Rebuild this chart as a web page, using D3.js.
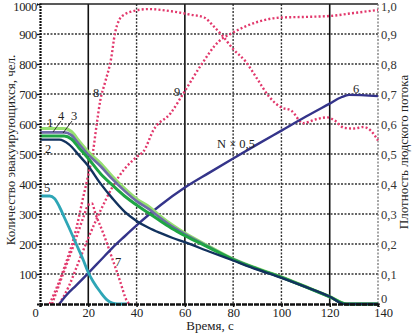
<!DOCTYPE html>
<html><head><meta charset="utf-8">
<script src="https://cdn.jsdelivr.net/npm/d3@7/dist/d3.min.js"></script>
<style>
html,body{margin:0;padding:0;background:#fff;}
svg{display:block;}
svg text{font-family:'Liberation Serif', serif !important;}
</style></head>
<body>
<svg id="c" width="413" height="334"></svg>
<script>
// ---- data ----
const xTicks = [0,20,40,60,80,100,120,140];
const yTicks = [100,200,300,400,500,600,700,800,900,1000];
const yRTicks = [0,0.1,0.2,0.3,0.4,0.5,0.6,0.7,0.8,0.9,1.0];
const yRLabels = ["0","0,1","0,2","0,3","0,4","0,5","0,6","0,7","0,8","0,9","1,0"];

const tA = [0,10,13,16,20,25,30,35,40,45,50,55,60,70,80,90,100,110,120,127,140];
const s1 = [585,585,575,545,507,470,425,385,350,325,292,262,236,192,150,118,90,58,25,0,0];
const s4 = [572,572,563,535,498,460,416,377,343,317,286,257,233,190,149,117,89,57,24,0,0];
const s3 = [560,560,550,522,485,435,396,360,330,303,276,250,228,188,148,117,89,57,24,0,0];
const tB = [0,8,12,16,20,25,30,35,40,45,50,55,60,70,80,90,100,110,120,126,140];
const s2 = [548,548,532,497,460,402,352,308,277,254,236,220,206,175,145,115,87,57,25,0,0];
const t5 = [0,4,6,8,10,12,15,18,20,22,25,28,30,32,36];
const s5 = [360,360,352,325,290,255,200,145,105,75,40,12,3,0,0];
const t6 = [8,11,15,20,25,30,35,40,50,60,70,80,90,100,110,120,125,128,140];
const s6 = [0,30,62,103,145,187,225,262,330,388,437,485,532,578,624,668,690,697,693];
// density (right axis)
const t7 = [5,10,15,18,20,21.5,23,26,30,33,36,37];
const d7 = [0,0.11,0.22,0.29,0.33,0.335,0.30,0.24,0.15,0.08,0.01,0];
const t8 = [4,10,15,18,20,22,23.5,25,27,29.5,31,33,35,38,45,55,62,68,72,76,80,85,90,95,100,104,109,114,119,122,126,130,134,137,140];
const d8 = [0,0.12,0.25,0.36,0.43,0.51,0.60,0.68,0.74,0.82,0.90,0.95,0.965,0.975,0.983,0.975,0.965,0.955,0.925,0.89,0.85,0.81,0.75,0.69,0.655,0.645,0.603,0.615,0.622,0.612,0.587,0.585,0.59,0.578,0.545];
const t9 = [8,12,16,20,25,30,35,40,43,47,54,60,67,74,80,90,100,110,120,130,140];
const d9 = [0,0.06,0.14,0.22,0.31,0.39,0.45,0.49,0.51,0.58,0.635,0.71,0.80,0.875,0.905,0.94,0.955,0.957,0.96,0.97,0.98];

const FONT = "'Liberation Serif', serif";
const svg = d3.select("#c");
const x = d3.scaleLinear().domain([0,140]).range([40,378]);
const y = d3.scaleLinear().domain([0,1000]).range([304,4]);
const yR = d3.scaleLinear().domain([0,1]).range([304,4]);

// grid
const grid = svg.append("g");
[20,40,60,80,100,120].forEach(v=>{
  const solid = (v===20||v===60||v===120);
  grid.append("line").attr("x1",x(v)).attr("x2",x(v)).attr("y1",y(1000)).attr("y2",y(0))
    .attr("stroke",solid?"#111":"#333").attr("stroke-width",solid?1.6:1.4)
    .attr("stroke-dasharray",solid?null:"2,1.5");
});
[100,200,300,400,500,600,700,800,900].forEach(v=>{
  grid.append("line").attr("x1",x(0)).attr("x2",x(140)).attr("y1",y(v)).attr("y2",y(v))
    .attr("stroke","#333").attr("stroke-width",1.4).attr("stroke-dasharray","2,1.5");
});
// frame
svg.append("line").attr("x1",x(0)).attr("x2",x(140)).attr("y1",y(1000)).attr("y2",y(1000)).attr("stroke","#222").attr("stroke-width",1.3);
svg.append("line").attr("x1",x(140)).attr("x2",x(140)).attr("y1",y(1000)).attr("y2",y(0)).attr("stroke","#777").attr("stroke-width",1.3).attr("stroke-dasharray","2,1.5");

// lines
const line = (tt,vv,sc)=>d3.line().x((d,i)=>x(tt[i])).y(d=>sc(d)).curve(d3.curveMonotoneX)(vv);
const redC = "#e2386c";
const series = [
  {t:t7,v:d7,s:yR,c:redC,w:2.4,dash:"2,2.2"},
  {t:t9,v:d9,s:yR,c:redC,w:2.4,dash:"2,2.2"},
  {t:t8,v:d8,s:yR,c:redC,w:2.4,dash:"2,2.2"},
  {t:t6,v:s6,s:y,c:"#34348a",w:2.4},
  {t:t5,v:s5,s:y,c:"#2ea6b6",w:2.8},
  {t:tA,v:s1,s:y,c:"#96e070",w:3.2},
  {t:tA,v:s4,s:y,c:"#6e6aa8",w:2.6},
  {t:tA,v:s3,s:y,c:"#1fa544",w:3},
  {t:tB,v:s2,s:y,c:"#12325e",w:2.4}
];
series.forEach(s=>{
  svg.append("path").attr("d",line(s.t,s.v,s.s)).attr("fill","none")
    .attr("stroke",s.c).attr("stroke-width",s.w)
    .attr("stroke-dasharray",s.dash||null).attr("stroke-linejoin","round");
});

// axes
const gx = svg.append("g").attr("transform","translate(0,304)")
  .call(d3.axisBottom(x).tickValues(xTicks).tickSize(3).tickPadding(1).tickFormat(d3.format("d")));
gx.attr("font-family",FONT);
gx.select(".domain").attr("stroke","#111").attr("stroke-width",2.4).attr("stroke-dasharray","5,1");
gx.selectAll("line").attr("stroke","#111").attr("stroke-width",1.5);
gx.selectAll("text").attr("font-family",FONT).attr("font-size",12.5).attr("fill","#222")
  .attr("dx",d=>d===0?-5:(d===140?5:0));

const gy = svg.append("g").attr("transform","translate(40,0)")
  .call(d3.axisLeft(y).tickValues(yTicks).tickSize(3).tickPadding(0).tickFormat(d3.format("d")));
gy.attr("font-family",FONT);
gy.select(".domain").attr("stroke","#111").attr("stroke-width",2.2).attr("stroke-dasharray","2,1");
gy.selectAll("line").attr("stroke","#111").attr("stroke-width",1.3);
gy.selectAll("text").attr("font-family",FONT).attr("font-size",12.5).attr("fill","#222").attr("letter-spacing",-0.3)
  .attr("dy",d=>d===1000?"0.5em":"0.32em");

const gr = svg.append("g").attr("transform","translate(378,0)")
  .call(d3.axisRight(yR).tickValues(yRTicks).tickSize(0).tickPadding(3).tickFormat((d,i)=>yRLabels[i]));
gr.attr("font-family",FONT);
gr.select(".domain").remove();
gr.selectAll("text").attr("font-family",FONT).attr("font-size",12.5).attr("fill","#333")
  .attr("dy",d=>d===1?"0.5em":(d===0?"-0.1em":"0.32em"));

// titles
svg.append("text").attr("transform","translate(15,150) rotate(-90)").attr("text-anchor","middle")
  .attr("font-family",FONT).attr("font-size",13).attr("fill","#222").text("Количество эвакуирующихся, чел.");
svg.append("text").attr("transform","translate(408,152) rotate(-90)").attr("text-anchor","middle")
  .attr("font-family",FONT).attr("font-size",13).attr("fill","#222").text("Плотность людского потока");
svg.append("text").attr("x",210).attr("y",330).attr("text-anchor","middle")
  .attr("font-family",FONT).attr("font-size",13).attr("fill","#222").text("Время, с");

// curve labels
const labs = [["1",50,127],["4",61,120],["3",74,120],["2",48,153],["5",47,192],["7",118,266],["8",96,97],["9",177,96],["6",356,93],["N × 0,5",236,148]];
labs.forEach(l=>{
  svg.append("text").attr("x",l[1]).attr("y",l[2]).attr("text-anchor","middle")
    .attr("font-family",FONT).attr("font-size",12.5).attr("fill","#222").text(l[0]);
});
svg.append("line").attr("x1",61).attr("y1",121).attr("x2",53).attr("y2",132).attr("stroke","#222").attr("stroke-width",0.9);
svg.append("line").attr("x1",72).attr("y1",121).attr("x2",63).attr("y2",133).attr("stroke","#222").attr("stroke-width",0.9);
</script>
</body></html>
